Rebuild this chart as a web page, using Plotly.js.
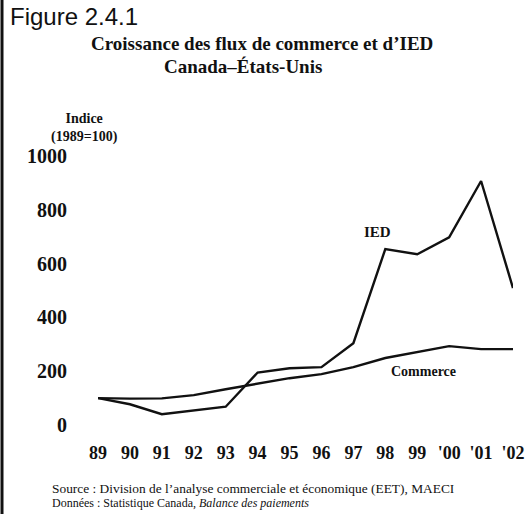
<!DOCTYPE html>
<html>
<head>
<meta charset="utf-8">
<script src="https://cdn.plot.ly/plotly-3.0.1.min.js"></script>
<style>html,body{margin:0;padding:0;background:#fff;}#chart{width:531px;height:514px;}</style>
</head>
<body>
<div id="chart"></div>
<script>
// ---- Data ----
const years = ['89','90','91','92','93','94','95','96','97','98','99',"'00","'01","'02"];
const commerce = [100, 98, 99, 111, 133, 154, 174, 189, 215, 249, 271, 293, 282, 282];
const ied = [100, 77, 40, 53, 68, 195, 211, 215, 304, 654, 635, 698, 907, 509];
const yTicks = [0, 200, 400, 600, 800, 1000];

// ---- Layout helpers ----
const W = 531, H = 514;
const M = {l: 98, r: 18, t: 156, b: 89};
const PW = W - M.l - M.r, PH = H - M.t - M.b;
const px = x => (x - M.l) / PW;
const py = y => (H - M.b - y) / PH;

const serif = 'Liberation Serif, Times New Roman, serif';
const sans = 'Liberation Sans, Arial, sans-serif';

const traces = [
  {x: years, y: ied, name: 'IED', type: 'scatter', mode: 'lines',
   line: {color: '#111', width: 2.4}, hoverinfo: 'x+y'},
  {x: years, y: commerce, name: 'Commerce', type: 'scatter', mode: 'lines',
   line: {color: '#111', width: 2.4}, hoverinfo: 'x+y'}
];

function ann(text, x, y, size, opts) {
  return Object.assign({
    text: text, xref: 'paper', yref: 'paper', x: px(x), y: py(y),
    xanchor: 'center', yanchor: 'middle', showarrow: false,
    font: {family: serif, size: size, color: '#111'}
  }, opts || {});
}

const layout = {
  width: W, height: H,
  margin: M,
  paper_bgcolor: '#fff', plot_bgcolor: '#fff',
  showlegend: false,
  xaxis: {
    type: 'category', range: [0, years.length - 1],
    showgrid: false, zeroline: false, showline: false, ticks: '',
    tickfont: {family: serif, size: 18, color: '#111', weight: 'bold'},
    ticklabelstandoff: 15
  },
  yaxis: {
    range: [0, 1000], tickvals: yTicks, ticktext: yTicks.map(String),
    showgrid: false, zeroline: false, showline: false, ticks: '',
    tickfont: {family: serif, size: 20, color: '#111', weight: 'bold'},
    ticklabelstandoff: 30
  },
  annotations: [
    ann('Figure 2.4.1', 8, 16, 24, {xanchor: 'left', font: {family: sans, size: 24, color: '#111'}}),
    ann('<b>Croissance des flux de commerce et d’IED</b>', 262, 43, 19),
    ann('<b>Canada–États-Unis</b>', 243, 67, 19),
    ann('<b>Indice</b><br><b>(1989=100)</b>', 84, 128, 14, {align: 'center'}),
    ann('<b>IED</b>', 377, 232, 15),
    ann('<b>Commerce</b>', 423, 371, 14),
    ann('Source : Division de l’analyse commerciale et économique (EET), MAECI', 50, 488, 13.4, {xanchor: 'left'}),
    ann('Données : Statistique Canada, <i>Balance des paiements</i>', 50, 503, 12, {xanchor: 'left'})
  ],
  shapes: [
    {type: 'line', xref: 'paper', yref: 'paper', x0: px(2), x1: px(2), y0: py(0), y1: py(514),
     line: {color: '#111', width: 3}}
  ]
};

Plotly.newPlot('chart', traces, layout, {displayModeBar: false, staticPlot: true});
</script>
</body>
</html>
